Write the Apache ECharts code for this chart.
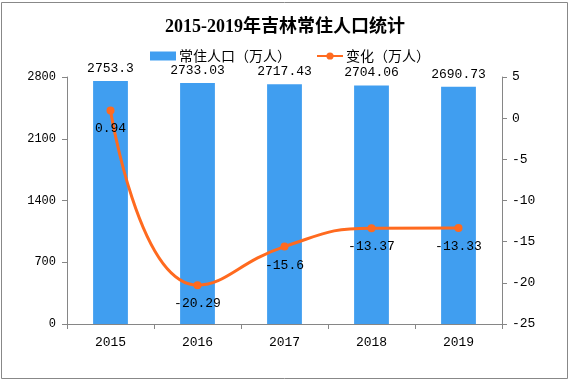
<!DOCTYPE html>
<html>
<head>
<meta charset="utf-8">
<script src="https://cdn.jsdelivr.net/npm/echarts@6/dist/echarts.min.js"></script>
<style>
html,body{margin:0;padding:0;background:#fff;}
#chart{width:570px;height:381px;}
</style>
</head>
<body>
<div id="chart"></div>
<script>
const years = ['2015', '2016', '2017', '2018', '2019'];
const population = [2753.3, 2733.03, 2717.43, 2704.06, 2690.73];
const change = [0.94, -20.29, -15.6, -13.37, -13.33];
const leftTicks = [0, 700, 1400, 2100, 2800];
const rightTicks = [-25, -20, -15, -10, -5, 0, 5];

const mono = "'Liberation Mono', 'DejaVu Sans Mono', 'Noto Sans CJK SC', monospace";
const axisGray = '#868686';

const chart = echarts.init(document.getElementById('chart'), null, {renderer: 'canvas'});
chart.setOption({
  backgroundColor: '#fff',
  animation: false,
  title: {
    text: '2015-2019年吉林常住人口统计',
    left: 'center',
    top: 13,
    textStyle: {
      fontFamily: "'Liberation Serif', 'Noto Sans CJK SC', serif",
      fontWeight: 'bold',
      fontSize: 18,
      color: '#000'
    }
  },
  legend: {
    left: 145,
    top: 44,
    itemWidth: 26,
    itemHeight: 9,
    itemGap: 25,
    textStyle: {fontFamily: "'Noto Sans CJK SC', sans-serif", fontSize: 14, color: '#000', padding: [0, 0, 0, -2]},
    data: [
      {name: '常住人口（万人）', icon: 'rect'},
      {name: '变化（万人）'}
    ]
  },
  grid: {left: 67, right: 68, top: 77, bottom: 57, containLabel: false},
  xAxis: {
    type: 'category',
    data: years,
    axisLine: {lineStyle: {color: axisGray, width: 1}},
    axisTick: {show: true, length: 5, lineStyle: {color: axisGray}},
    axisLabel: {fontFamily: mono, fontSize: 13, color: '#000', margin: 12}
  },
  yAxis: [
    {
      type: 'value',
      min: leftTicks[0],
      max: leftTicks[leftTicks.length - 1],
      interval: 700,
      axisLine: {show: true, lineStyle: {color: axisGray}},
      axisTick: {show: true, length: 5, lineStyle: {color: axisGray}},
      axisLabel: {fontFamily: mono, fontSize: 12, color: '#000', margin: 11, formatter: function (v) { return String(v); }},
      splitLine: {show: false}
    },
    {
      type: 'value',
      min: rightTicks[0],
      max: rightTicks[rightTicks.length - 1],
      interval: 5,
      position: 'right',
      axisLine: {show: true, lineStyle: {color: axisGray}},
      axisTick: {show: true, length: 5, lineStyle: {color: axisGray}},
      axisLabel: {fontFamily: mono, fontSize: 13, color: '#000', margin: 10, formatter: function (v) { return String(v); }},
      splitLine: {show: false}
    }
  ],
  series: [
    {
      name: '常住人口（万人）',
      type: 'bar',
      data: population,
      barWidth: '40%',
      itemStyle: {color: '#409EF0'},
      label: {
        show: true,
        position: 'top',
        distance: 6,
        fontFamily: mono,
        fontSize: 13,
        color: '#000'
      }
    },
    {
      name: '变化（万人）',
      type: 'line',
      yAxisIndex: 1,
      data: change,
      smooth: 0.5,
      symbol: 'circle',
      symbolSize: 8,
      lineStyle: {color: '#FF6A1F', width: 3},
      itemStyle: {color: '#FF6A1F'},
      label: {
        show: true,
        position: 'bottom',
        distance: 8,
        fontFamily: mono,
        fontSize: 13,
        color: '#000'
      },
      z: 3
    }
  ],
  graphic: [
    {
      type: 'rect',
      shape: {x: 1.5, y: 2.5, width: 566, height: 376},
      style: {fill: 'none', stroke: '#888', lineWidth: 1},
      silent: true,
      z: 100
    }
  ]
});
</script>
</body>
</html>
